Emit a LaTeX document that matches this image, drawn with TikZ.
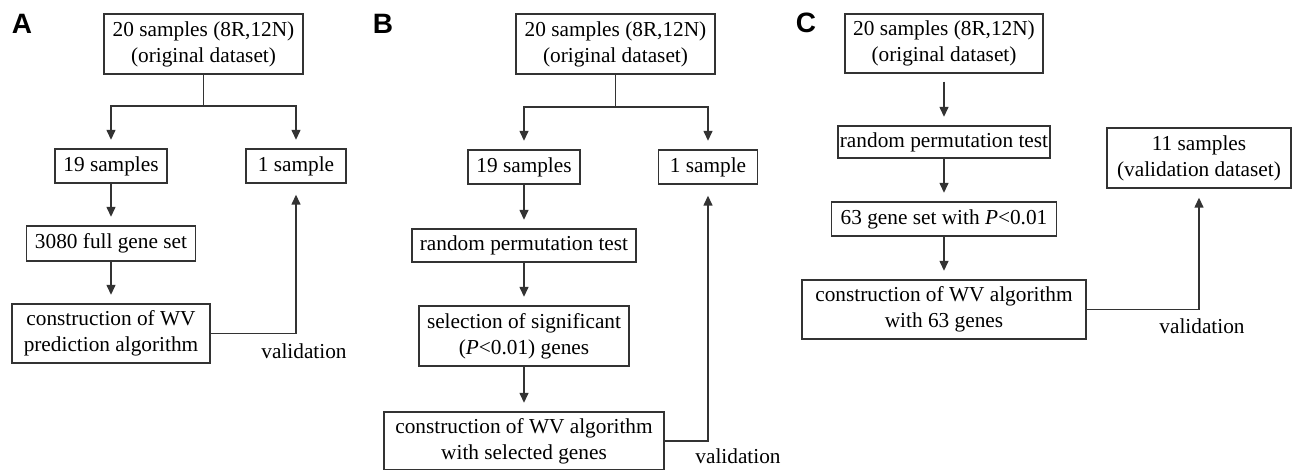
\documentclass[tikz,border=0pt]{standalone}
\usepackage{fontspec}
\setmainfont{Liberation Serif}
\newfontfamily\labelfont{Liberation Sans}
\usetikzlibrary{arrows.meta}
\begin{document}
\begin{tikzpicture}[x=1pt,y=-1pt,
  box/.style={draw=black!80, line width=1.4pt, inner sep=0pt, align=center,
    font=\fontsize{21.3}{26}\selectfont, text=black},
  txt/.style={inner sep=0pt, font=\fontsize{21.3}{26}\selectfont, text=black},
  panel/.style={inner sep=0pt, font=\labelfont\bfseries\fontsize{28}{30}\selectfont},
  conn/.style={draw=black!80, line width=1.4pt},
  arr/.style={conn, -{Triangle[length=10pt,width=9pt]}, shorten >=8.5pt},
  uparr/.style={conn, -{Triangle[length=10pt,width=9pt]}, shorten >=11pt}]
\useasboundingbox (0,0) rectangle (1293,470);
\fill[white] (0,0) rectangle (1293,470);

% ---------- Panel A ----------
\node[panel] (pa) at (22,24) {A};
\node[box, minimum width=199pt, minimum height=60pt] (a0) at (203.5,44) {20 samples (8R,12N)\\(original dataset)};
\node[box, minimum width=112pt, minimum height=34pt] (a1) at (111,166) {19 samples};
\node[box, minimum width=100pt, minimum height=34pt] (a2) at (296,166) {1 sample};
\node[box, minimum width=169pt, minimum height=35pt] (a3) at (111,243.5) {3080 full gene set};
\node[box, minimum width=198pt, minimum height=59pt] (a4) at (111,333.5) {construction of WV\\prediction algorithm};
\node[txt] (av) at (304,351) {validation};
\coordinate (aj) at (203.5,106);
\draw[conn] (a0) -- (aj);
\draw[arr] (aj) -| (a1);
\draw[arr] (aj) -| (a2);
\draw[arr] (a1) -- (a3);
\draw[arr] (a3) -- (a4);
\draw[uparr] (a4.east) -| (a2);

% ---------- Panel B ----------
\node[panel] (pb) at (383,24) {B};
\node[box, minimum width=199pt, minimum height=60pt] (b0) at (615.5,44) {20 samples (8R,12N)\\(original dataset)};
\node[box, minimum width=112pt, minimum height=34pt] (b1) at (524,167) {19 samples};
\node[box, minimum width=99pt, minimum height=34pt] (b2) at (708,167) {1 sample};
\node[box, minimum width=224pt, minimum height=33pt] (b3) at (524,245.5) {random permutation test};
\node[box, minimum width=210pt, minimum height=60pt] (b4) at (524,336) {selection of significant\\(\textit{P}<0.01) genes};
\node[box, minimum width=280pt, minimum height=58pt] (b5) at (524,441) {construction of WV algorithm\\with selected genes};
\node[txt] (bv) at (738,456) {validation};
\coordinate (bj) at (615.5,107);
\draw[conn] (b0) -- (bj);
\draw[arr] (bj) -| (b1);
\draw[arr] (bj) -| (b2);
\draw[arr] (b1) -- (b3);
\draw[arr] (b3) -- (b4);
\draw[arr] (b4) -- (b5);
\draw[uparr] (b5.east) -| (b2);

% ---------- Panel C ----------
\node[panel] (pc) at (806,23) {C};
\node[box, minimum width=198pt, minimum height=59pt] (c0) at (944,43.5) {20 samples (8R,12N)\\(original dataset)};
\node[box, minimum width=212pt, minimum height=32pt] (c1) at (944,142) {random permutation test};
\node[box, minimum width=225pt, minimum height=34pt] (c2) at (944,219) {63 gene set with \textit{P}<0.01};
\node[box, minimum width=284pt, minimum height=59pt] (c3) at (944,309.5) {construction of WV algorithm\\with 63 genes};
\node[box, minimum width=184pt, minimum height=60pt] (c4) at (1199,158) {11 samples\\(validation dataset)};
\node[txt] (cv) at (1202,326) {validation};
\draw[arr, shorten <=8pt] (c0) -- (c1);
\draw[arr] (c1) -- (c2);
\draw[arr] (c2) -- (c3);
\draw[uparr, shorten >=9pt] (c3.east) -| (c4);
\end{tikzpicture}
\end{document}
